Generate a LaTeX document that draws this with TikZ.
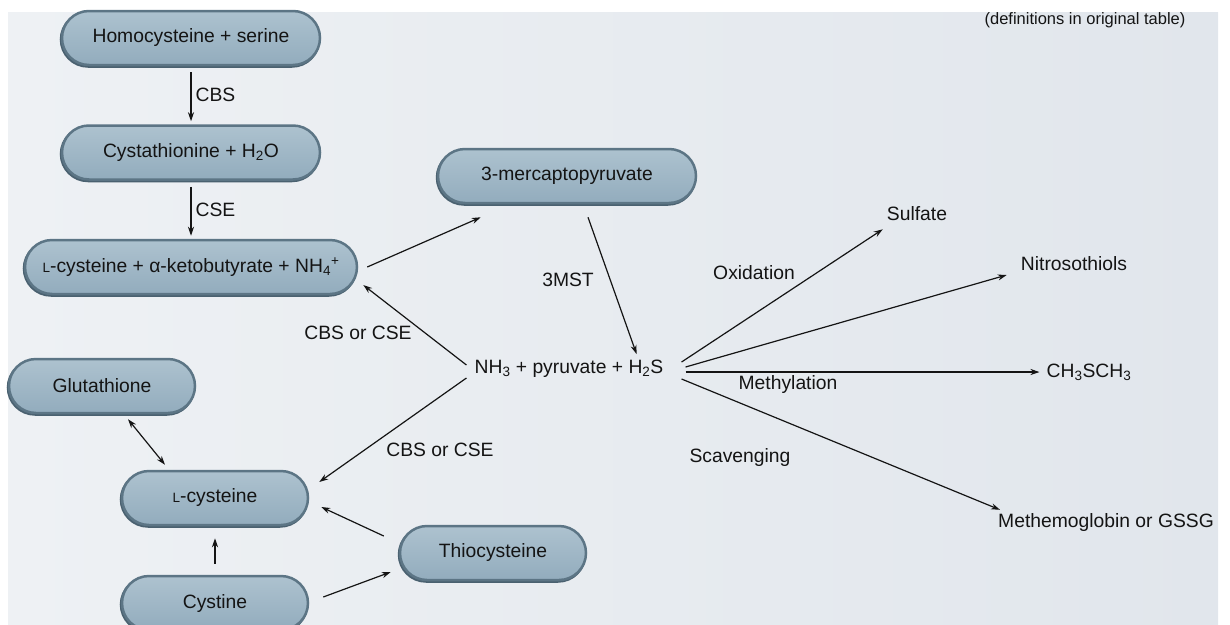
\documentclass[tikz,border=0pt]{standalone}
\usepackage{fontspec}
\setmainfont{Liberation Sans}
\usetikzlibrary{arrows.meta,positioning}
\definecolor{bgleft}{HTML}{EEF1F4}
\definecolor{bgright}{HTML}{E1E6EC}
\definecolor{pilltop}{HTML}{ADC2CF}
\definecolor{pillbot}{HTML}{92ACBD}
\definecolor{pilledge}{HTML}{5C7585}
\definecolor{pilldark}{HTML}{4A6170}
\definecolor{inktext}{HTML}{141414}
\newcommand{\nodefont}{\fontsize{19.3}{22}\selectfont}
\newcommand{\Lsc}{{\fontsize{13.5}{13.5}\selectfont L}}

\begin{document}
\begin{tikzpicture}[x=1pt, y=-1pt,
    pill/.style={rectangle, rounded corners=27pt, minimum height=54pt, inner sep=0pt,
        draw=pilledge, line width=2.5pt, top color=pilltop, bottom color=pillbot,
        preaction={draw=pilldark, line width=2.5pt, transform canvas={xshift=-1pt, yshift=-1.5pt}},
        font=\nodefont, text=inktext},
    lbl/.style={font=\nodefont, text=inktext, inner sep=4pt},
    arr/.style={-{Stealth[length=9pt, width=6pt]}, line width=1.2pt, draw=inktext},
    dblarr/.style={{Stealth[length=9pt, width=6pt]}-{Stealth[length=9pt, width=6pt]}, line width=1.2pt, draw=inktext}
]
\useasboundingbox (0,0) rectangle (1230,624);
\fill[left color=bgleft, right color=bgright] (8,12) rectangle (1218,624);

% Transsulfuration chain
\node[pill, minimum width=258pt] (homo) at (191,38) {Homocysteine + serine};
\node[pill, minimum width=258pt, below=58pt of homo] (cysta) {Cystathionine + H\textsubscript{2}O};
\node[pill, minimum width=332pt, below=58pt of cysta] (lcysk) {\Lsc-cysteine + α-ketobutyrate + NH\textsubscript{4}\textsuperscript{+}};

% Other pools
\node[pill, minimum width=258pt] (merc) at (567,176) {3-mercaptopyruvate};
\node[pill, minimum width=186pt] (glut) at (102,386) {Glutathione};
\node[pill, minimum width=186pt] (lcys) at (215,498) {\Lsc-cysteine};
\node[pill, minimum width=186pt] (thio) at (493,553) {Thiocysteine};
\node[pill, minimum width=186pt] (cystine) at (215,603) {Cystine};

% H2S and its fates
\node[lbl] (nh) at (569,369) {NH\textsubscript{3} + pyruvate + H\textsubscript{2}S};
\node[lbl] (sulf) at (917,214) {Sulfate};
\node[lbl] (nitro) at (1074,264) {Nitrosothiols};
\node[lbl] (dms) at (1089,372) {CH\textsubscript{3}SCH\textsubscript{3}};
\node[lbl] (methb) at (1106,523) {Methemoglobin or GSSG};
\node[lbl, font=\fontsize{16.5}{19}\selectfont] (note) at (1085,20) {(definitions in original table)};

% Enzyme and process labels
\node[lbl] (l3mst) at (568,280) {3MST};
\node[lbl] (lcbsup) at (358,333) {CBS or CSE};
\node[lbl] (lcbslow) at (440,450) {CBS or CSE};
\node[lbl] (loxi) at (754,273) {Oxidation};
\node[lbl] (lmeth) at (788,385) {Methylation};
\node[lbl] (lscav) at (740,458) {Scavenging};

% Arrows
\draw[arr, shorten <=6pt, shorten >=3pt] (homo) -- node[lbl, right] {CBS} (cysta);
\draw[arr, shorten <=6pt, shorten >=3pt] (cysta) -- node[lbl, right] {CSE} (lcysk);
\draw[arr] ([xshift=9pt]lcysk.east) -- ([xshift=44pt, yshift=-13pt]merc.south west);
\draw[arr] ([xshift=21pt, yshift=-13pt]merc.south) -- ([xshift=-31pt, yshift=2pt]nh.north east);
\draw[arr] ([xshift=-4pt, yshift=4pt]nh.west) -- ([xshift=5pt, yshift=-18pt]lcysk.east);
\draw[arr] ([xshift=-4pt, yshift=-9pt]nh.west) -- ([xshift=10pt, yshift=16pt]lcys.east);
\draw[arr] ([xshift=-15pt, yshift=17pt]thio.west) -- ([xshift=12pt, yshift=-9pt]lcys.east);
\draw[arr] ([xshift=14pt, yshift=6pt]cystine.east) -- ([xshift=-8pt, yshift=-19pt]thio.west);
\draw[arr, shorten <=11pt, shorten >=12pt] (cystine) -- (lcys);
\draw[dblarr] ([xshift=26pt, yshift=-5pt]glut.south) -- ([xshift=-50pt, yshift=5pt]lcys.north);

% Fates of H2S
\draw[arr] ([xshift=14pt, yshift=7pt]nh.east) -- ([yshift=-4pt]sulf.south west);
\draw[arr] ([xshift=18pt, yshift=2pt]nh.east) -- ([xshift=-10pt, yshift=-11pt]nitro.west);
\draw[arr] ([xshift=18pt, yshift=-3pt]nh.east) -- ([xshift=-3pt]dms.west);
\draw[arr] ([xshift=14pt, yshift=-10pt]nh.east) -- ([xshift=6pt]methb.north west);

\end{tikzpicture}
\end{document}
